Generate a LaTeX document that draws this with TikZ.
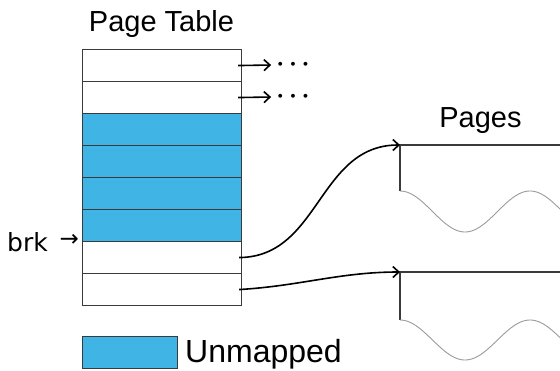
\documentclass[tikz,border=0pt]{standalone}
\usepackage{fontspec}
\setmainfont{Liberation Sans}
\newfontfamily\brkfont{DejaVu Sans}
\usetikzlibrary{arrows.meta}
\definecolor{unm}{HTML}{41B4E6}
\definecolor{edgec}{HTML}{3A3A3A}
\definecolor{wavec}{HTML}{9A9A9A}
\begin{document}
\begin{tikzpicture}[x=1pt,y=-1pt,
  rowbox/.style={draw=edgec,line width=1.1pt,minimum width=159pt,minimum height=32pt,inner sep=0pt,anchor=north west},
  unmapped/.style={rowbox,fill=unm},
  conn/.style={-{Straight Barb[length=6pt,width=11pt]},line width=1.6pt,black},
  lbl/.style={inner sep=0pt,anchor=base},
  dotsl/.style={inner sep=0pt,font=\fontsize{24}{28}\selectfont\boldmath},
  pageline/.style={draw=edgec,line width=1.1pt},
  wave/.style={draw=wavec,line width=0.9pt}]
\useasboundingbox (0,0) rectangle (560,370);
% title
\node[lbl,font=\fontsize{29}{32}\selectfont] (title) at (161.5,31) {Page Table};
% table rows
\node[rowbox]   (r1) at (82,49)  {};
\node[rowbox]   (r2) at (82,81)  {};
\node[unmapped] (r3) at (82,113) {};
\node[unmapped] (r4) at (82,145) {};
\node[unmapped] (r5) at (82,177) {};
\node[unmapped] (r6) at (82,209) {};
\node[rowbox]   (r7) at (82,241) {};
\node[rowbox]   (r8) at (82,273) {};
% dots
\node[dotsl] (d1) at (293,65) {$\cdots$};
\node[dotsl] (d2) at (293,97) {$\cdots$};
\draw[conn] ([xshift=-4pt]r1.east) -- ([xshift=-5pt]d1.west);
\draw[conn] ([xshift=-4pt]r2.east) -- ([xshift=-5pt]d2.west);
% brk
\node[inner sep=0pt,anchor=base west,font=\brkfont\fontsize{25}{28}\selectfont] (brk) at (7,251.5) {brk};
\node[inner sep=0pt,anchor=east,font=\brkfont\fontsize{23}{26}\selectfont] (brkarrow) at (79,240) {→};
% pages
\node[lbl,font=\fontsize{29}{32}\selectfont] (pages) at (480.5,127) {Pages};
\coordinate (p1) at (400,145);
\coordinate (p2) at (400,272);
\draw[pageline] (560,145) -- (p1) -- (400,191);
\draw[wave] plot[domain=0:162,samples=80] ({400+\x},{211.5-20.5*cos(2.76923*\x)});
\draw[pageline] (560,272) -- (p2) -- (400,320);
\draw[wave] plot[domain=0:162,samples=80] ({400+\x},{340-20*cos(2.76923*\x)});
% connectors
\draw[conn] ([xshift=-3pt]r7.east) .. controls (320,257) and (318,145) .. (p1);
\draw[conn] ([xshift=-3pt]r8.east) .. controls (300,286) and (340,272) .. (p2);
% legend
\node[unmapped,minimum width=95pt] (leg) at (82,336) {};
\node[inner sep=0pt,anchor=base west,font=\fontsize{32}{36}\selectfont] (legt) at (185,362.5) {Unmapped};
\end{tikzpicture}
\end{document}
